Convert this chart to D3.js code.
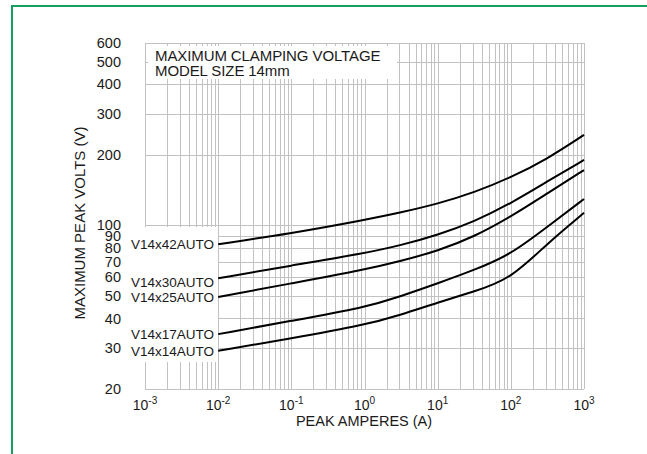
<!DOCTYPE html>
<html>
<head>
<meta charset="utf-8">
<script src="https://cdn.jsdelivr.net/npm/d3@7"></script>
<style>
  body { margin: 0; background: #fff; }
  text { font-family: "Liberation Sans", Arial, sans-serif; fill: #1a1a1a; }
</style>
</head>
<body>
<svg id="chart" width="647" height="454"></svg>
<script>
// peak current (A) where each curve was read
var amps = [0.01, 0.1, 1, 3.16, 10, 31.6, 100, 316, 1000];

var models = ["V14x42AUTO", "V14x30AUTO", "V14x25AUTO", "V14x17AUTO", "V14x14AUTO"];
var v42 = [83, 92.4, 105.4, 113.5, 123.5, 138, 160, 192, 243];
var v30 = [59.4, 67.3, 75.9, 82.2, 90.9, 103.6, 124, 154, 190];
var v25 = [49.4, 56.5, 64.6, 70.4, 77.7, 89.4, 108.8, 137, 172];
var v17 = [34.3, 39.1, 44.5, 49.8, 56.5, 64.4, 75, 98.6, 129.5];
var v14 = [29.1, 32.9, 37.5, 41.5, 46.8, 52.1, 59, 83.8, 113];

var yTicks = [600, 500, 400, 300, 200, 100, 90, 80, 70, 60, 50, 40, 30, 20];
var yGrid = [20, 30, 40, 50, 60, 70, 80, 90, 100, 200, 300, 400, 500, 600];
var xExponents = [-3, -2, -1, 0, 1, 2, 3];

var titleLines = ["MAXIMUM CLAMPING VOLTAGE", "MODEL SIZE 14mm"];

var svg = d3.select("#chart");

// outer green frame (runs off the right/bottom edge)
svg.append("rect")
    .attr("x", 12).attr("y", 6)
    .attr("width", 700).attr("height", 500)
    .attr("fill", "none")
    .attr("stroke", "#17a05d")
    .attr("stroke-width", 2);

var x = d3.scaleLog().domain([1e-3, 1e3]).range([145, 584]);
var y = d3.scaleLog().domain([20, 600]).range([389, 43]);

// grid
var xGrid = [];
xExponents.forEach(function(e) {
    if (e === 3) { xGrid.push(1e3); return; }
    for (var k = 1; k <= 9; k++) xGrid.push(k * Math.pow(10, e));
});

var grid = svg.append("g").attr("stroke", "#c2c2c2").attr("stroke-width", 1);
grid.selectAll("line.v").data(xGrid).enter().append("line")
    .attr("x1", function(d) { return Math.round(x(d)) + 0.5; })
    .attr("x2", function(d) { return Math.round(x(d)) + 0.5; })
    .attr("y1", y(600)).attr("y2", y(20));
grid.selectAll("line.h").data(yGrid).enter().append("line")
    .attr("y1", function(d) { return Math.round(y(d)) + 0.5; })
    .attr("y2", function(d) { return Math.round(y(d)) + 0.5; })
    .attr("x1", x(1e-3)).attr("x2", x(1e3));

// white boxes knocked out of the grid
svg.append("rect").attr("x", 148).attr("y", 46).attr("width", 249).attr("height", 33).attr("fill", "#fff");
svg.append("rect").attr("x", 125).attr("y", 227).attr("width", 93).attr("height", 135).attr("fill", "#fff");

var title = svg.append("g").attr("font-size", 15);
title.selectAll("text").data(titleLines).enter().append("text")
    .attr("x", 155)
    .attr("y", function(d, i) { return 61 + i * 15; })
    .attr("letter-spacing", -0.1)
    .text(function(d) { return d; });

// y tick labels
var yAxis = d3.axisLeft(y).tickValues(yTicks).tickFormat(d3.format("d")).tickSize(0).tickPadding(24);
var ya = svg.append("g").attr("transform", "translate(145,0)").call(yAxis);
ya.select(".domain").remove();
ya.selectAll("text").attr("font-size", 14.5).attr("fill", "#1a1a1a")
    .style("font-family", "'Liberation Sans', Arial, sans-serif");

// x tick labels with superscript exponents
var xl = svg.append("g");
var tl = xl.selectAll("text").data(xExponents).enter().append("text")
    .attr("x", function(e) { return x(Math.pow(10, e)); })
    .attr("y", 410)
    .attr("text-anchor", "middle")
    .attr("font-size", 14);
tl.append("tspan").text("10");
tl.append("tspan").attr("dy", -6).attr("font-size", 10)
    .text(function(e) { return e < 0 ? "-" + (-e) : "" + e; });

// axis titles
svg.append("text")
    .attr("x", 364).attr("y", 426)
    .attr("text-anchor", "middle").attr("font-size", 14.5)
    .text("PEAK AMPERES (A)");
svg.append("text")
    .attr("transform", "translate(85,223) rotate(-90)")
    .attr("text-anchor", "middle").attr("font-size", 15)
    .text("MAXIMUM PEAK VOLTS (V)");

// curves
var series = [v42, v30, v25, v17, v14];
var line = d3.line()
    .x(function(d, i) { return x(amps[i]); })
    .y(function(d) { return y(d); })
    .curve(d3.curveBasis);

svg.append("g").selectAll("path").data(series).enter().append("path")
    .attr("d", line)
    .attr("fill", "none")
    .attr("stroke", "#000")
    .attr("stroke-width", 2);

svg.append("g").selectAll("text").data(series).enter().append("text")
    .attr("x", 214)
    .attr("y", function(d, i) { return y(d[0]) + (i === 1 ? 4 : 0); })
    .attr("dy", "0.36em")
    .attr("text-anchor", "end")
    .attr("font-size", 13.5)
    .text(function(d, i) { return models[i]; });
</script>
</body>
</html>
